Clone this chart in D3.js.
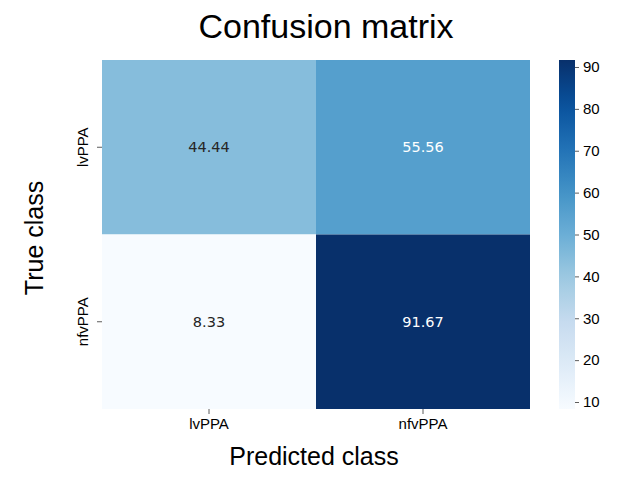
<!DOCTYPE html>
<html>
<head>
<meta charset="utf-8">
<script src="https://cdn.jsdelivr.net/npm/d3@7"></script>
<style>
  html, body { margin: 0; padding: 0; background: #fff; }
  svg { display: block; }
  text { font-family: "Liberation Sans", Arial, sans-serif; fill: #000; }
</style>
</head>
<body>
<svg id="chart" width="632" height="481"></svg>
<script>
// Class labels for rows (true) and columns (predicted)
const trueClasses = ["lvPPA", "nfvPPA"];
const predClasses = ["lvPPA", "nfvPPA"];
// Percentages, row by row
const row_lvPPA = [44.44, 55.56];
const row_nfvPPA = [8.33, 91.67];
const colorbarTicks = [10, 20, 30, 40, 50, 60, 70, 80, 90];

const matrix = [row_lvPPA, row_nfvPPA];
const cells = [];
matrix.forEach((row, i) => row.forEach((v, j) => cells.push({ t: trueClasses[i], p: predClasses[j], v })));

const vmin = d3.min(cells, d => d.v);
const vmax = d3.max(cells, d => d.v);

// Blues palette, linearly interpolated between the nine ColorBrewer steps
const bluesSteps = ["#f7fbff", "#deebf7", "#c6dbef", "#9ecae1", "#6baed6", "#4292c6", "#2171b5", "#08519c", "#08306b"];
const color = d3.scaleLinear()
  .domain(bluesSteps.map((_, k) => vmin + (vmax - vmin) * k / (bluesSteps.length - 1)))
  .range(bluesSteps)
  .interpolate(d3.interpolateRgb);

const svg = d3.select("#chart");
const plot = { left: 102, right: 530, top: 60, bottom: 409 };

const x = d3.scaleBand().domain(predClasses).range([plot.left, plot.right]);
const y = d3.scaleBand().domain(trueClasses).range([plot.top, plot.bottom]);

// Heatmap cells
svg.append("g").selectAll("rect").data(cells).join("rect")
  .attr("x", d => x(d.p))
  .attr("y", d => y(d.t))
  .attr("width", x.bandwidth())
  .attr("height", y.bandwidth())
  .attr("fill", d => color(d.v));

// Annotations: light text on dark cells
function lum(c) {
  const rgb = d3.rgb(c);
  const f = u => { u /= 255; return u <= 0.03928 ? u / 12.92 : Math.pow((u + 0.055) / 1.055, 2.4); };
  return 0.2126 * f(rgb.r) + 0.7152 * f(rgb.g) + 0.0722 * f(rgb.b);
}
svg.append("g").selectAll("text").data(cells).join("text")
  .attr("x", d => x(d.p) + x.bandwidth() / 2)
  .attr("y", d => y(d.t) + y.bandwidth() / 2)
  .attr("text-anchor", "middle")
  .attr("dominant-baseline", "central")
  .style("font-family", "'DejaVu Sans', sans-serif")
  .style("font-size", "14.5px")
  .style("fill", d => lum(color(d.v)) > 0.408 ? "#262626" : "#ffffff")
  .text(d => d.v.toFixed(2));

// Axes
const xAxis = svg.append("g")
  .attr("transform", `translate(0,${plot.bottom})`)
  .call(d3.axisBottom(x).tickSize(5).tickSizeOuter(0).tickPadding(4));
xAxis.select(".domain").remove();
xAxis.selectAll("line").attr("stroke", "#333").attr("stroke-width", 0.8);
xAxis.selectAll("text").style("font-size", "15px").attr("fill", "#000")
  .style("font-family", "'Liberation Sans', Arial, sans-serif");

const yAxis = svg.append("g")
  .attr("transform", `translate(${plot.left},0)`)
  .call(d3.axisLeft(y).tickSize(5).tickSizeOuter(0).tickPadding(4));
yAxis.select(".domain").remove();
yAxis.selectAll("line").attr("stroke", "#333").attr("stroke-width", 0.8);
yAxis.selectAll("text")
  .style("font-size", "15px").attr("fill", "#000")
  .style("font-family", "'Liberation Sans', Arial, sans-serif")
  .attr("x", null).attr("dy", null)
  .attr("text-anchor", "middle")
  .attr("transform", "translate(-14,0) rotate(-90)");

// Colorbar
const cb = { left: 559, width: 16, top: 60, bottom: 409 };
const cScale = d3.scaleLinear().domain([vmin, vmax]).range([cb.bottom, cb.top]);
const defs = svg.append("defs");
const grad = defs.append("linearGradient").attr("id", "bluesGrad")
  .attr("x1", 0).attr("y1", 1).attr("x2", 0).attr("y2", 0);
d3.range(0, 1.0001, 0.05).forEach(t => {
  grad.append("stop").attr("offset", t).attr("stop-color", color(vmin + t * (vmax - vmin)));
});
svg.append("rect")
  .attr("x", cb.left).attr("y", cb.top)
  .attr("width", cb.width).attr("height", cb.bottom - cb.top)
  .attr("fill", "url(#bluesGrad)");
const cAxis = svg.append("g")
  .attr("transform", `translate(${cb.left + cb.width},0)`)
  .call(d3.axisRight(cScale).tickValues(colorbarTicks).tickFormat(d3.format("d")).tickSize(4).tickPadding(4));
cAxis.select(".domain").remove();
cAxis.selectAll("line").attr("stroke", "#333").attr("stroke-width", 0.8);
cAxis.selectAll("text").style("font-size", "15px").attr("fill", "#222")
  .style("font-family", "'Liberation Sans', Arial, sans-serif");

// Titles
svg.append("text")
  .attr("x", 326).attr("y", 38)
  .attr("text-anchor", "middle")
  .style("font-size", "34px")
  .text("Confusion matrix");

svg.append("text")
  .attr("x", 314).attr("y", 465)
  .attr("text-anchor", "middle")
  .style("font-size", "25px")
  .text("Predicted class");

svg.append("text")
  .attr("transform", "translate(43,238) rotate(-90)")
  .attr("text-anchor", "middle")
  .style("font-size", "25px")
  .text("True class");
</script>
</body>
</html>
